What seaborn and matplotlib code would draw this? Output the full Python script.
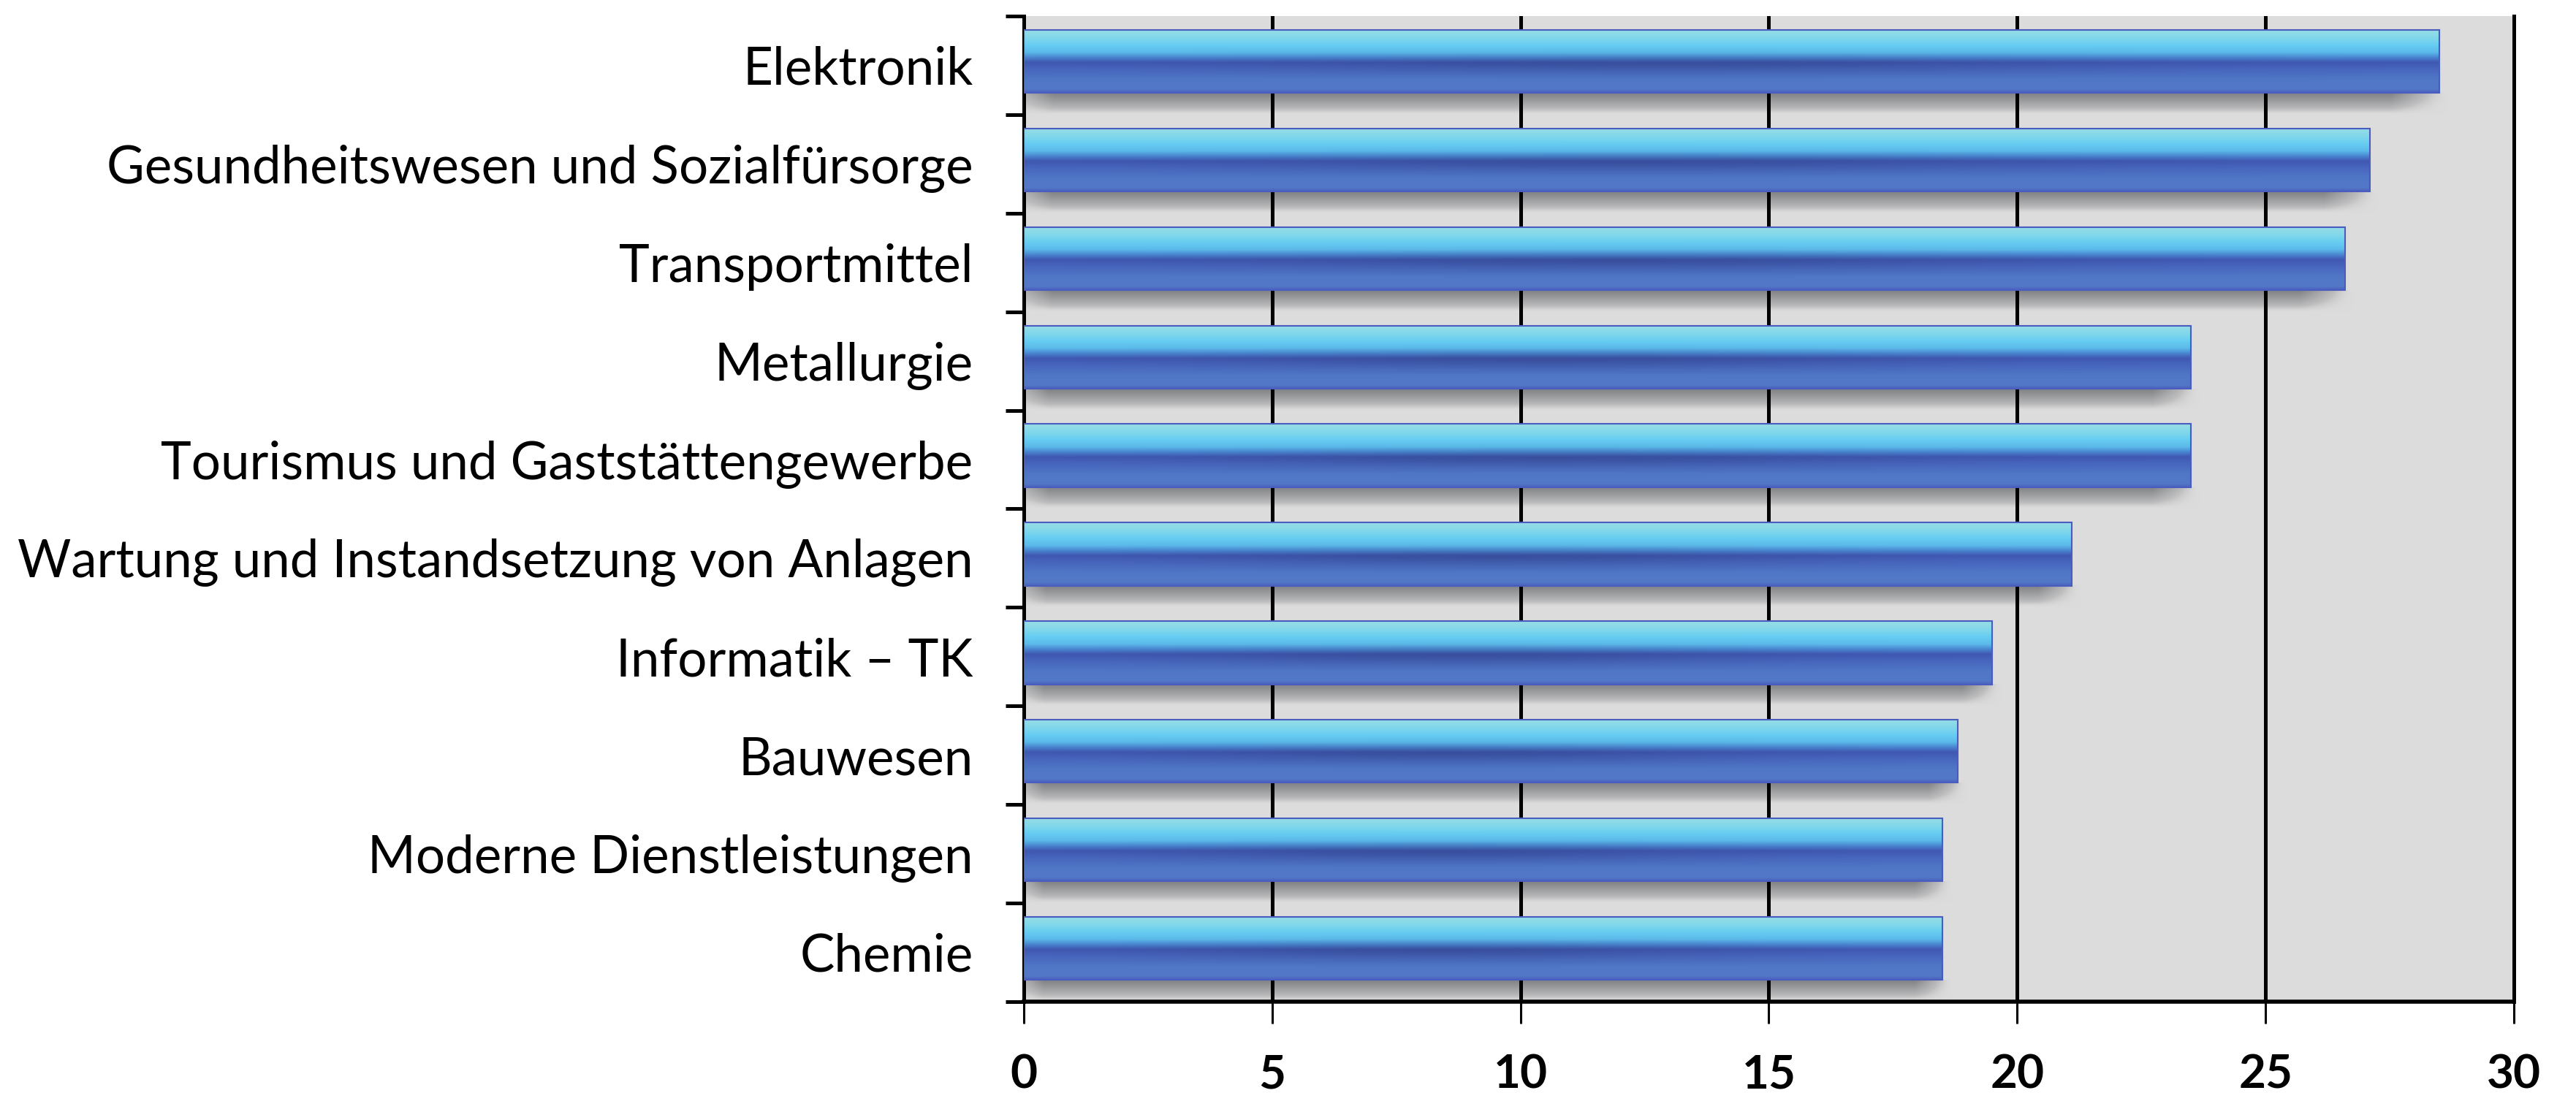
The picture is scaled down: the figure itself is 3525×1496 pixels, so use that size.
import numpy as np
import pandas as pd
import seaborn as sns
import matplotlib
matplotlib.use("Agg")
import matplotlib.pyplot as plt
from matplotlib.colors import to_rgb

# ---- data ----
categories = [
    "Elektronik",
    "Gesundheitswesen und Sozialfürsorge",
    "Transportmittel",
    "Metallurgie",
    "Tourismus und Gaststättengewerbe",
    "Wartung und Instandsetzung von Anlagen",
    "Informatik – TK",
    "Bauwesen",
    "Moderne Dienstleistungen",
    "Chemie",
]
values = [28.5, 27.1, 26.6, 23.5, 23.5, 21.1, 19.5, 18.8, 18.5, 18.5]
x_ticks = [0, 5, 10, 15, 20, 25, 30]

df = pd.DataFrame({"Branche": categories, "Wert": values})

sns.set_theme(style="ticks")
plt.rcParams["font.family"] = ["Lato", "DejaVu Sans"]

BG = "#dcdcdc"
fig = plt.figure(figsize=(35.25, 14.96), dpi=100)
fig.patch.set_facecolor("white")
ax = fig.add_axes([0.3974, 0.0836, 0.5785, 0.9017])
ax.set_facecolor(BG)

sns.barplot(data=df, x="Wert", y="Branche", orient="h", width=0.64,
            color="#4f74c4", ax=ax, zorder=3, saturation=1)

# ---- gradient for bars ----
H, W = 240, 400
t = np.linspace(0, 1, H)
stops = [(0.00, "#98dde6"), (0.12, "#84d8ea"), (0.25, "#66cdf2"),
         (0.36, "#5cbaea"), (0.44, "#4a88d2"), (0.52, "#4058b2"),
         (0.62, "#4765be"), (0.80, "#5078c6"), (0.94, "#5478c8"),
         (1.00, "#4a62bc")]
sp = np.array([s[0] for s in stops])
sc = np.array([to_rgb(s[1]) for s in stops])
prof = np.stack([np.interp(t, sp, sc[:, k]) for k in range(3)], axis=1)
u = np.linspace(0, 1, W)
gx = np.exp(-((u - 0.45) / 0.28) ** 2)
gt = np.exp(-((t - 0.56) / 0.14) ** 2)
dark = 1 - 0.12 * gt[:, None] * gx[None, :]
bar_img = prof[:, None, :] * dark[:, :, None]

# shadow image (colours blended towards the background)
SH, SW = 100, 400
st = np.linspace(0, 1, SH)
su = np.linspace(0, 1, SW)
bg = np.array(to_rgb(BG))
dk = np.array(to_rgb("#808184"))
a_v = np.clip(1 - st, 0, 1) ** 0.8
a_h = np.clip((1 - su) / 0.04, 0, 1) * np.clip(0.5 + su / 0.04, 0, 1)
a = a_v[:, None] * a_h[None, :]
shadow = np.ones((SH, SW, 4))
shadow[..., :3] = bg[None, None, :] * (1 - a[..., None]) + dk[None, None, :] * a[..., None]
shadow[..., 3] = np.clip(a * 3, 0, 1)

for p in ax.patches:
    p.set_y(p.get_y() - 0.04)
    x0 = p.get_x()
    w = p.get_width()
    y0 = p.get_y()
    h = p.get_height()
    p.set_facecolor("none")
    p.set_edgecolor("#4a5cc0")
    p.set_linewidth(1.5)
    im = ax.imshow(bar_img, extent=[x0, x0 + w, y0 + h, y0], origin="upper",
                   aspect="auto", zorder=2.9, interpolation="bilinear")
    im.set_clip_path(p)
    ax.imshow(shadow, extent=[x0, x0 + w + 0.2, y0 + h + 0.22, y0 + h],
              origin="upper", aspect="auto", zorder=0.3,
              interpolation="bilinear")

ax.set_xlim(0, 30)
ax.set_ylim(9.5, -0.5)
ax.set_xlabel("")
ax.set_ylabel("")

# grid
ax.set_axisbelow(True)
ax.set_xticks(x_ticks)
ax.xaxis.grid(True, color="black", linewidth=3.6)
ax.yaxis.grid(False)

# spines
ax.spines["top"].set_visible(False)
ax.spines["right"].set_visible(True)
ax.spines["right"].set_color("black")
ax.spines["right"].set_linewidth(3.6)
ax.spines["left"].set_color("black")
ax.spines["left"].set_linewidth(3.6)
ax.spines["bottom"].set_color("black")
ax.spines["bottom"].set_linewidth(4.0)

# ticks
ax.set_yticks(np.arange(-0.5, 10, 1), minor=True)
ax.tick_params(axis="y", which="major", length=0, pad=50, labelsize=51,
               labelcolor="black")
ax.tick_params(axis="y", which="minor", length=18, width=3.6,
               direction="out", color="black", left=True)
ax.tick_params(axis="x", which="major", length=21.6, width=2.2,
               direction="out", color="black", pad=30, labelsize=46,
               labelcolor="black", bottom=True)
for lbl in ax.get_xticklabels():
    lbl.set_fontweight("bold")

fig.savefig("out.png", dpi=100, facecolor="white")
